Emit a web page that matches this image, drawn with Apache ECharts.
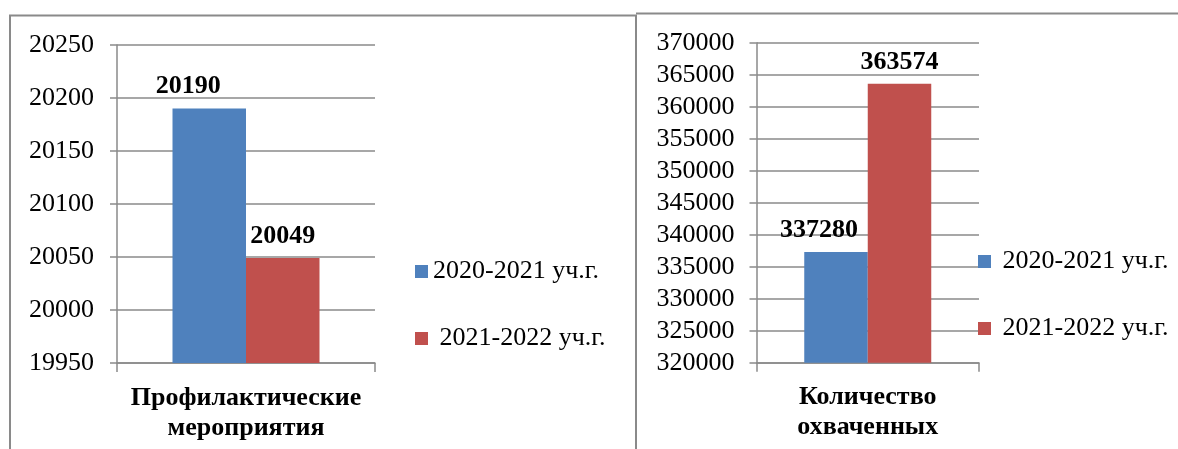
<!DOCTYPE html>
<html>
<head>
<meta charset="utf-8">
<script src="https://cdn.jsdelivr.net/npm/echarts@6/dist/echarts.min.js"></script>
<style>
html,body{margin:0;padding:0;background:#fff;}
#chart{width:1178px;height:449px;}
</style>
</head>
<body>
<div id="chart"></div>
<script>
// ---- data ----
const seriesNames = ['2020-2021 уч.г.', '2021-2022 уч.г.'];
const leftCategory = ['Профилактические\nмероприятия'];
const leftValues2020 = [20190];
const leftValues2021 = [20049];
const rightCategory = ['Количество\nохваченных'];
const rightValues2020 = [337280];
const rightValues2021 = [363574];
const leftAxis = { min: 19950, max: 20250, interval: 50 };
const rightAxis = { min: 320000, max: 370000, interval: 5000 };

const FONT = '"Liberation Serif", "Times New Roman", serif';
const BLUE = '#4F81BD';
const RED = '#C0504D';
const GRAY = '#8a8a8a';

const chart = echarts.init(document.getElementById('chart'), null, { renderer: 'canvas' });

function xAxisCfg(gridIndex, cats) {
  return {
    type: 'category', gridIndex: gridIndex, data: cats,
    axisLine: { lineStyle: { color: GRAY, width: 1.5 } },
    axisTick: { show: true, length: 9, lineStyle: { color: GRAY, width: 1.5 } },
    axisLabel: { fontFamily: FONT, fontWeight: 'bold', fontSize: 26, color: '#000', lineHeight: 30, margin: 20, interval: 0 },
    splitLine: { show: false }
  };
}
function yAxisCfg(gridIndex, ax, margin) {
  return {
    type: 'value', gridIndex: gridIndex, min: ax.min, max: ax.max, interval: ax.interval,
    axisLine: { show: true, lineStyle: { color: GRAY, width: 1.5 } },
    axisTick: { show: true, length: 7, lineStyle: { color: GRAY, width: 1.5 } },
    axisLabel: { fontFamily: FONT, fontSize: 26, color: '#000', margin: margin,
      formatter: function (v) { return String(v); } },
    splitLine: { show: true, lineStyle: { color: GRAY, width: 1.5 } }
  };
}
function labelCfg(offsetX) {
  return {
    show: true, position: 'top', distance: 9, offset: [offsetX, 0],
    fontFamily: FONT, fontWeight: 'bold', fontSize: 26, lineHeight: 26, color: '#000'
  };
}
function legendCfg(left, top, prefixes) {
  return {
    orient: 'vertical', left: left, top: top,
    itemWidth: 13, itemHeight: 13, itemGap: 41, icon: 'rect',
    data: seriesNames,
    formatter: function (name) { return prefixes[seriesNames.indexOf(name)] + name; },
    textStyle: { fontFamily: FONT, fontSize: 26, color: '#000', lineHeight: 26 },
    selectedMode: false
  };
}

const option = {
  backgroundColor: '#fff',
  animation: false,
  grid: [
    { left: 117, top: 45, width: 258, height: 318 },
    { left: 756.5, top: 42.7, width: 222.5, height: 320 }
  ],
  xAxis: [xAxisCfg(0, leftCategory), xAxisCfg(1, rightCategory)],
  yAxis: [yAxisCfg(0, leftAxis, 23), yAxisCfg(1, rightAxis, 22)],
  legend: [
    legendCfg(410, 253.5, ['', ' ']),
    legendCfg(973, 243.5, [' ', ' '])
  ],
  series: [
    { name: seriesNames[0], type: 'bar', xAxisIndex: 0, yAxisIndex: 0, data: leftValues2020,
      barWidth: 73.5, barGap: '0%', itemStyle: { color: BLUE }, label: labelCfg(-21) },
    { name: seriesNames[1], type: 'bar', xAxisIndex: 0, yAxisIndex: 0, data: leftValues2021,
      barWidth: 73.5, barGap: '0%', itemStyle: { color: RED }, label: labelCfg(0) },
    { name: seriesNames[0], type: 'bar', xAxisIndex: 1, yAxisIndex: 1, data: rightValues2020,
      barWidth: 63.5, barGap: '0%', itemStyle: { color: BLUE }, label: labelCfg(-17) },
    { name: seriesNames[1], type: 'bar', xAxisIndex: 1, yAxisIndex: 1, data: rightValues2021,
      barWidth: 63.5, barGap: '0%', itemStyle: { color: RED }, label: labelCfg(0) }
  ],
  graphic: [
    { type: 'polyline', shape: { points: [[10, 449], [10, 15.5], [636, 15.5], [636, 449]] },
      style: { stroke: GRAY, lineWidth: 2, fill: null }, silent: true },
    { type: 'line', shape: { x1: 636, y1: 13.5, x2: 1178, y2: 13.5 },
      style: { stroke: GRAY, lineWidth: 2 }, silent: true }
  ]
};
chart.setOption(option);
</script>
</body>
</html>
